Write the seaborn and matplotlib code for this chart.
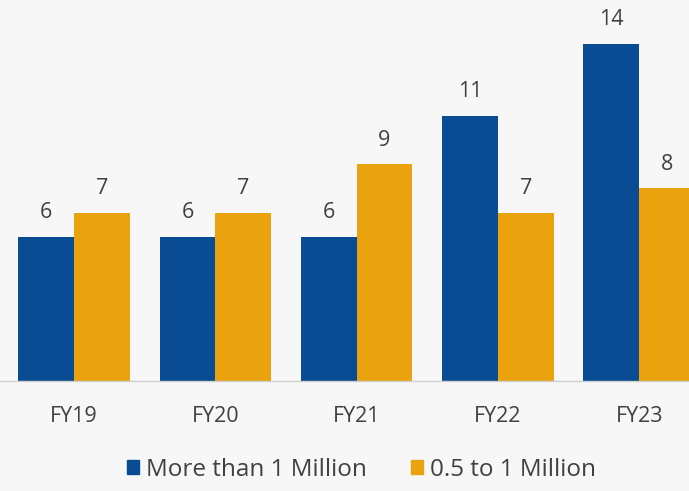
import pandas as pd
import matplotlib
matplotlib.use("Agg")
import matplotlib.pyplot as plt
import seaborn as sns

# values
years = ["FY19", "FY20", "FY21", "FY22", "FY23"]
more_than_1m = [6, 6, 6, 11, 14]
half_to_1m = [7, 7, 9, 7, 8]
series_names = ["More than 1 Million", "0.5 to 1 Million"]
colors = ["#0a4c94", "#eaa20f"]

df = pd.DataFrame({
    "Year": years * 2,
    "Count": more_than_1m + half_to_1m,
    "Group": [series_names[0]] * len(years) + [series_names[1]] * len(years),
})

sns.set_style("white")
plt.rcParams["font.family"] = ["Open Sans", "DejaVu Sans"]

fig = plt.figure(figsize=(6.89, 4.91), dpi=100, facecolor="#f7f7f7")
ax = fig.add_axes([0, 0.224, 1, 0.776])
ax.set_facecolor("none")

sns.barplot(data=df, x="Year", y="Count", hue="Group", palette=colors,
            width=0.79, gap=0, saturation=1, legend=False, linewidth=0, ax=ax)

for cont in ax.containers:
    ax.bar_label(cont, padding=10, fontsize=15.5, color="#404040")

ax.set_xlim(-0.524, 4.352)
ax.set_ylim(0, 15.83)
ax.set_xlabel("")
ax.set_ylabel("")
ax.set_yticks([])
ax.tick_params(axis="x", length=0, pad=18, labelsize=15.5, labelcolor="#404040")
for side in ["top", "left", "right"]:
    ax.spines[side].set_visible(False)
ax.spines["bottom"].set_color("#cfcfcf")
ax.spines["bottom"].set_linewidth(1)

handles = [plt.Rectangle((0, 0), 1, 1, color=c) for c in colors]
fig.legend(handles, series_names, loc="center", bbox_to_anchor=(0.525, 0.043),
           ncol=2, frameon=False, fontsize=17.5, labelcolor="#404040",
           handlelength=0.5, handleheight=0.5, handletextpad=0.3,
           columnspacing=1.8)

fig.savefig("out.png", dpi=100, facecolor=fig.get_facecolor())
